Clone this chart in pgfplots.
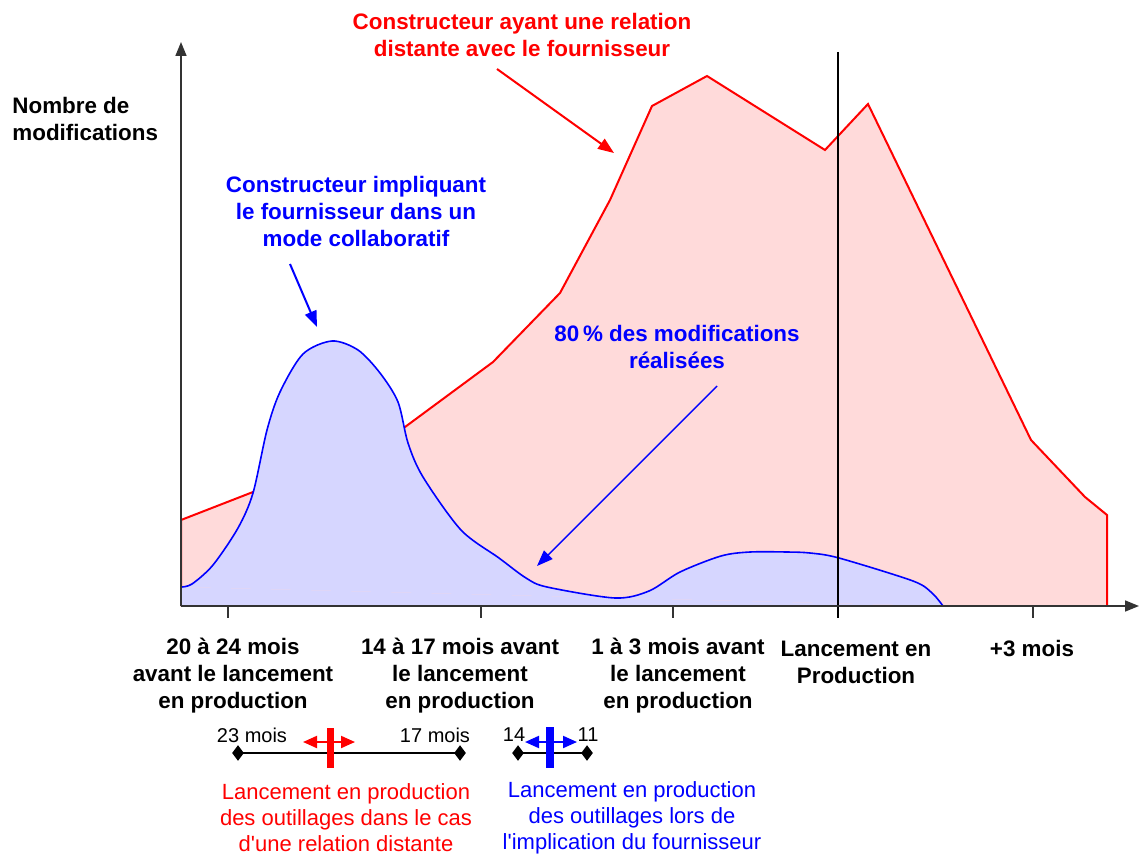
\documentclass[border=0pt]{standalone}
\usepackage{pgfplots}
\pgfplotsset{compat=1.18}
\usepackage{fontspec}
\setmainfont{Liberation Sans}
\usetikzlibrary{arrows.meta}
\definecolor{pinkfill}{RGB}{255,218,218}
\definecolor{bluefill}{RGB}{214,214,255}
\definecolor{axisgray}{RGB}{51,51,51}
\newcommand{\bigb}{\fontsize{11.2}{13.5}\selectfont\bfseries}
\newcommand{\smallr}{\fontsize{11}{13}\selectfont}
\newcommand{\tinyr}{\fontsize{10}{12}\selectfont}

\begin{document}
\begin{tikzpicture}
\begin{axis}[
  hide axis, scale only axis, width=569.5pt, height=428pt,
  xmin=0, xmax=1139, ymin=0, ymax=856, y dir=reverse, clip=false,
]
% Constructeur ayant une relation distante
\addplot[fill=pinkfill, draw=red, line width=1pt] coordinates {
 (181,606) (181,520) (253,492) (405,427) (493,362) (560,293) (610,200)
 (652,106) (707,76) (825,150) (868,104) (1031,440) (1085,497) (1107,515) (1107,606)
};
% Constructeur impliquant le fournisseur
\addplot[fill=bluefill, draw=none] coordinates {(181,587) (181,606) (943,606)};
\addplot[fill=bluefill, draw=blue, line width=0.8pt, smooth, tension=0.5] coordinates {
 (181,587) (192,584) (213,565) (238,528) (253,493) (267,430) (280,392)
 (303,354) (332,341) (358,350) (380,373) (398,402) (408,443) (423,477) (461,530)
 (499,558) (526,578) (547,587) (615,598) (649,591) (680,572) (721,556) (750,552)
 (787,552) (810,553) (839,558) (913,581) (932,593) (943,606)
};
% launch line
\addplot[black, line width=0.6pt] coordinates {(838,52) (838,618)};
% axes
\addplot[axisgray, line width=0.8pt, -{Triangle[length=7pt,width=5.5pt]}] coordinates {(181,606) (181,42)};
\addplot[axisgray, line width=0.8pt, -{Triangle[length=7pt,width=5.5pt]}] coordinates {(181,606) (1139,606)};
% ticks
\addplot[axisgray, line width=0.7pt] coordinates {(228,606) (228,618)};
\addplot[axisgray, line width=0.7pt] coordinates {(481,606) (481,618)};
\addplot[axisgray, line width=0.7pt] coordinates {(673,606) (673,618)};
\addplot[axisgray, line width=0.7pt] coordinates {(1033,606) (1033,618)};
% annotation arrows
\addplot[red, line width=1pt, -{Triangle[length=8pt,width=6pt]}] coordinates {(497,69) (614,153)};
\addplot[blue, line width=1pt, -{Triangle[length=8pt,width=6pt]}] coordinates {(290,264) (317,327)};
\addplot[blue, line width=0.7pt, -{Triangle[length=8pt,width=6pt]}] coordinates {(717,386) (537,566)};
% bottom diagrams
\addplot[black, line width=0.7pt, mark=diamond*, mark size=3.3pt] coordinates {(238,753) (460,753)};
\addplot[red, line width=3.5pt] coordinates {(330,728) (330,768)};
\addplot[red, line width=1pt, {Triangle[length=7pt,width=6pt]}-{Triangle[length=7pt,width=6pt]}] coordinates {(303,742) (355,742)};
\addplot[black, line width=0.7pt, mark=diamond*, mark size=3.3pt] coordinates {(518,753) (587,753)};
\addplot[blue, line width=4pt] coordinates {(550,727) (550,768)};
\addplot[blue, line width=1pt, {Triangle[length=7pt,width=6pt]}-{Triangle[length=7pt,width=6pt]}] coordinates {(525,742) (577,742)};

% texts
\node[inner sep=0pt, anchor=west, align=left, font=\bigb] at (axis cs:12,119) {Nombre de\\modifications};
\node[inner sep=0pt, align=center, font=\bigb, text=red] at (axis cs:522,35) {Constructeur ayant une relation\\distante avec le fournisseur};
\node[inner sep=0pt, align=center, font=\bigb, text=blue] at (axis cs:356,211) {Constructeur impliquant\\le fournisseur dans un\\mode collaboratif};
\node[inner sep=0pt, align=center, font=\bigb, text=blue] at (axis cs:677,347) {80\,\% des modifications\\réalisées};
\node[inner sep=0pt, align=center, font=\bigb] at (axis cs:233,676) {20 à 24 mois\\avant le lancement\\en production};
\node[inner sep=0pt, align=center, font=\bigb] at (axis cs:460,676) {14 à 17 mois avant\\le lancement\\en production};
\node[inner sep=0pt, align=center, font=\bigb] at (axis cs:678,676) {1 à 3 mois avant\\le lancement\\en production};
\node[inner sep=0pt, align=center, font=\bigb] at (axis cs:856,662) {Lancement en\\Production};
\node[inner sep=0pt, align=center, font=\bigb] at (axis cs:1032,649) {+3 mois};
\node[inner sep=0pt, font=\tinyr] at (axis cs:252,735) {23 mois};
\node[inner sep=0pt, font=\tinyr] at (axis cs:435,735) {17 mois};
\node[inner sep=0pt, font=\tinyr] at (axis cs:514,735) {14};
\node[inner sep=0pt, font=\tinyr] at (axis cs:588,735) {11};
\node[inner sep=0pt, align=center, font=\smallr, text=red] at (axis cs:346,818) {Lancement en production\\des outillages dans le cas\\d\textquotesingle une relation distante};
\node[inner sep=0pt, align=center, font=\smallr, text=blue] at (axis cs:632,818) {Lancement en production\\des outillages lors de\\l\textquotesingle implication du fournisseur};
\end{axis}
\pgfresetboundingbox
\path (current axis.south west) rectangle (current axis.north east);
\end{tikzpicture}
\end{document}
